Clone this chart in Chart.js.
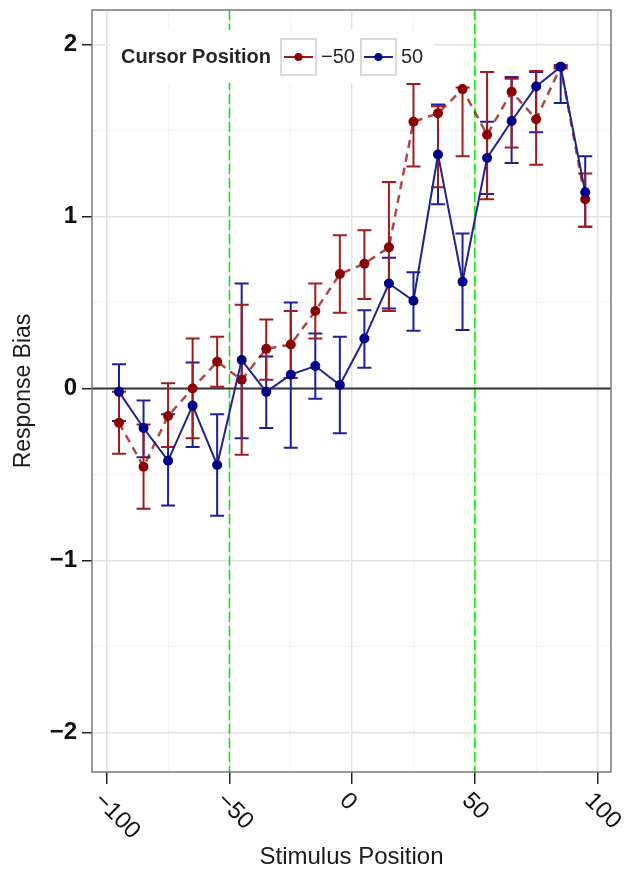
<!DOCTYPE html>
<html lang="en">
<head>
<meta charset="UTF-8" />
<title>Response Bias</title>
<script src="https://cdn.jsdelivr.net/npm/chart.js"></script>
<style>
  html, body { margin: 0; padding: 0; background: #fff; }
</style>
</head>
<body>
<canvas id="myChart" width="624" height="869"></canvas>
<script>
const FONT = '"Liberation Sans", Arial, sans-serif';

// stimulus positions (x)
const stimulus = [-95, -85, -75, -65, -55, -45, -35, -25, -15, -5, 5, 15, 25, 35, 45, 55, 65, 75, 85, 95];

// cursor position -50
const meanMinus50 = [-0.2, -0.455, -0.16, 0.0, 0.155, 0.05, 0.23, 0.255, 0.45, 0.665, 0.725, 0.82, 1.55, 1.6, 1.74, 1.475, 1.725, 1.565, 1.87, 1.1];
const lowMinus50 = [-0.38, -0.7, -0.34, -0.29, 0.01, -0.385, 0.05, 0.06, 0.29, 0.44, 0.52, 0.45, 1.29, 1.17, 1.35, 1.1, 1.4, 1.3, 1.86, 0.94];
const highMinus50 = [-0.02, -0.21, 0.03, 0.29, 0.3, 0.486, 0.4, 0.45, 0.61, 0.89, 0.92, 1.2, 1.77, 1.64, 1.75, 1.84, 1.8, 1.845, 1.88, 1.25];

// cursor position 50
const mean50 = [-0.02, -0.23, -0.42, -0.1, -0.445, 0.165, -0.02, 0.08, 0.13, 0.02, 0.29, 0.61, 0.51, 1.36, 0.62, 1.34, 1.555, 1.755, 1.87, 1.14];
const low50 = [-0.19, -0.4, -0.68, -0.34, -0.74, -0.29, -0.23, -0.345, -0.06, -0.26, 0.12, 0.465, 0.335, 1.07, 0.34, 1.13, 1.31, 1.49, 1.66, 0.94];
const high50 = [0.14, -0.07, -0.15, 0.15, -0.15, 0.61, 0.185, 0.5, 0.32, 0.3, 0.455, 0.76, 0.675, 1.65, 0.9, 1.55, 1.81, 1.84, 1.87, 1.35];

const seriesLabels = ["\u221250", "50"];
const legendTitle = "Cursor Position";

const xTicks = [-100, -50, 0, 50, 100];
const xMinor = [-75, -25, 25, 75];
const yTicks = [-2, -1, 0, 1, 2];
const yMinor = [-1.5, -0.5, 0.5, 1.5];
const boundaryLines = [-50, 50];

function fmt(v) {
  return v < 0 ? "\u2212" + Math.abs(v) : String(v);
}

const isMajorX = (v) => xTicks.includes(v);
const isMajorY = (v) => yTicks.includes(v);

const decor = {
  id: "decor",
  beforeDatasetsDraw(chart) {
    const { ctx, chartArea: a, scales } = chart;
    const x = scales.x, y = scales.y;
    ctx.save();
    // dashed green boundaries
    ctx.strokeStyle = "#00ee00";
    ctx.lineWidth = 1.5;
    ctx.setLineDash([10, 4]);
    boundaryLines.forEach((v) => {
      const px = x.getPixelForValue(v);
      ctx.beginPath();
      ctx.moveTo(px, a.top);
      ctx.lineTo(px, a.bottom);
      ctx.stroke();
    });
    ctx.setLineDash([]);
    // zero line
    const y0 = y.getPixelForValue(0);
    ctx.strokeStyle = "#333";
    ctx.lineWidth = 2;
    ctx.beginPath();
    ctx.moveTo(a.left, y0);
    ctx.lineTo(a.right, y0);
    ctx.stroke();
    // legend background hides the grid
    ctx.fillStyle = "#fff";
    ctx.fillRect(110, 30, 323, 53);
    // error bars, blue under red
    [1, 0].forEach((di) => {
      const ds = chart.data.datasets[di];
      ctx.strokeStyle = ds.barColor;
      ctx.lineWidth = 2;
      stimulus.forEach((sx, i) => {
        const px = x.getPixelForValue(sx);
        const pl = y.getPixelForValue(ds.errLow[i]);
        const ph = y.getPixelForValue(ds.errHigh[i]);
        ctx.beginPath();
        ctx.moveTo(px, pl);
        ctx.lineTo(px, ph);
        ctx.moveTo(px - 7, pl);
        ctx.lineTo(px + 7, pl);
        ctx.moveTo(px - 7, ph);
        ctx.lineTo(px + 7, ph);
        ctx.stroke();
      });
    });
    ctx.restore();
  },
  afterDraw(chart) {
    const { ctx, chartArea: a, scales } = chart;
    const x = scales.x;
    ctx.save();
    // panel border
    ctx.strokeStyle = "#7a7a7a";
    ctx.lineWidth = 1.5;
    ctx.strokeRect(a.left, a.top, a.right - a.left, a.bottom - a.top);

    // rotated x tick labels
    ctx.fillStyle = "#111";
    ctx.font = "24px " + FONT;
    ctx.textAlign = "left";
    ctx.textBaseline = "middle";
    xTicks.forEach((v) => {
      const px = x.getPixelForValue(v);
      ctx.save();
      ctx.translate(px - 9, a.bottom + 25);
      ctx.rotate(Math.PI / 4);
      ctx.fillText(fmt(v), 0, 0);
      ctx.restore();
    });

    // legend
    const ly = 57;
    ctx.fillStyle = "#262626";
    ctx.font = "bold 20px " + FONT;
    ctx.textBaseline = "middle";
    let lx = 121;
    ctx.fillText(legendTitle, lx, ly);
    lx += ctx.measureText(legendTitle).width + 10;
    chart.data.datasets.forEach((ds) => {
      ctx.strokeStyle = "#cfcfcf";
      ctx.lineWidth = 1.5;
      ctx.strokeRect(lx, ly - 18, 35, 36);
      ctx.strokeStyle = ds.barColor;
      ctx.lineWidth = 2;
      ctx.beginPath();
      ctx.moveTo(lx + 3, ly);
      ctx.lineTo(lx + 32, ly);
      ctx.stroke();
      ctx.fillStyle = ds.pointBackgroundColor;
      ctx.beginPath();
      ctx.arc(lx + 17.5, ly, 4, 0, Math.PI * 2);
      ctx.fill();
      lx += 40;
      ctx.fillStyle = "#262626";
      ctx.font = "20px " + FONT;
      ctx.fillText(ds.label, lx, ly);
      lx += ctx.measureText(ds.label).width + 6;
    });
    ctx.restore();
  },
};

const datasets = [
  {
    label: seriesLabels[0],
    data: stimulus.map((sx, i) => ({ x: sx, y: meanMinus50[i] })),
    errLow: lowMinus50,
    errHigh: highMinus50,
    barColor: "#a01c1c",
    borderColor: "rgba(139,0,0,0.72)",
    borderDash: [8, 6],
    borderWidth: 2.5,
    pointRadius: 5,
    pointBorderWidth: 0,
    pointBackgroundColor: "#8b0000",
    order: 1,
  },
  {
    label: seriesLabels[1],
    data: stimulus.map((sx, i) => ({ x: sx, y: mean50[i] })),
    errLow: low50,
    errHigh: high50,
    barColor: "#1f1f99",
    borderColor: "#22228c",
    borderWidth: 2,
    pointRadius: 5,
    pointBorderWidth: 0,
    pointBackgroundColor: "#00008b",
    order: 0,
  },
];

const myChart = new Chart(document.getElementById("myChart").getContext("2d"), {
  type: "line",
  data: { datasets: datasets },
  plugins: [decor],
  options: {
    responsive: false,
    animation: false,
    devicePixelRatio: 1,
    layout: { padding: { top: 10, right: 13, left: 0, bottom: 0 } },
    plugins: { legend: { display: false }, tooltip: { enabled: false } },
    scales: {
      x: {
        type: "linear",
        min: -106,
        max: 105.5,
        afterBuildTicks: (s) => {
          s.ticks = [...xTicks, ...xMinor].sort((a, b) => a - b).map((v) => ({ value: v }));
        },
        afterFit: (s) => {
          s.height = 97;
          s.paddingLeft = 0;
          s.paddingRight = 0;
        },
        ticks: { display: false },
        grid: {
          color: (c) => (isMajorX(c.tick.value) ? "#e2e2e2" : "#f2f2f2"),
          lineWidth: (c) => (isMajorX(c.tick.value) ? 1.5 : 1),
          tickLength: 12,
          tickColor: (c) => (isMajorX(c.tick.value) ? "#222" : "rgba(0,0,0,0)"),
          tickWidth: 1.5,
        },
        border: { display: false },
        title: {
          display: true,
          text: "Stimulus Position",
          color: "#1a1a1a",
          font: { family: FONT, size: 24, lineHeight: 1 },
          padding: 0,
        },
      },
      y: {
        min: -2.23,
        max: 2.2,
        afterBuildTicks: (s) => {
          s.ticks = [...yTicks, ...yMinor].sort((a, b) => a - b).map((v) => ({ value: v }));
        },
        afterFit: (s) => {
          s.width = 92;
          s.paddingTop = 0;
          s.paddingBottom = 0;
        },
        ticks: {
          padding: 5,
          color: "#111",
          font: { family: FONT, size: 24, weight: "bold" },
          callback: (v) => (isMajorY(v) ? fmt(v) : ""),
        },
        grid: {
          color: (c) => (isMajorY(c.tick.value) ? "#e2e2e2" : "#f2f2f2"),
          lineWidth: (c) => (isMajorY(c.tick.value) ? 1.5 : 1),
          tickLength: 10,
          tickColor: (c) => (isMajorY(c.tick.value) ? "#222" : "rgba(0,0,0,0)"),
          tickWidth: 1.5,
        },
        border: { display: false },
        title: {
          display: true,
          text: "Response Bias",
          color: "#1a1a1a",
          font: { family: FONT, size: 23, lineHeight: 1 },
          padding: { top: 12.5, bottom: 0 },
        },
      },
    },
  },
});
</script>
</body>
</html>
